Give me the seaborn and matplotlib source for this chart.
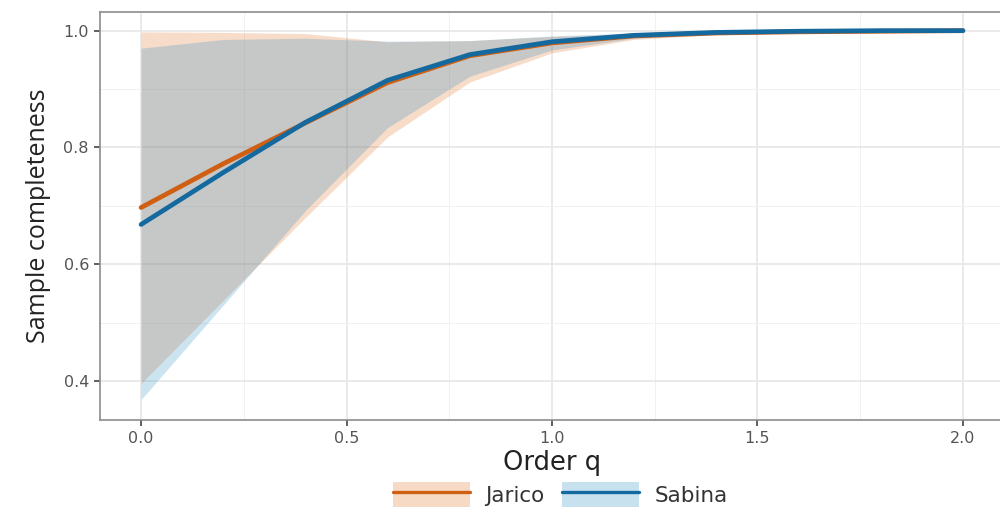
import numpy as np
import pandas as pd
import matplotlib
matplotlib.use("Agg")
import matplotlib.pyplot as plt
import seaborn as sns
from matplotlib.patches import Patch
from matplotlib.lines import Line2D

# ---- data ----
order_q = [0.0, 0.2, 0.4, 0.6, 0.8, 1.0, 1.2, 1.4, 1.6, 1.8, 2.0]
sites = ["Jarico", "Sabina"]

jarico_sc = [0.697, 0.772, 0.842, 0.911, 0.957, 0.979, 0.991, 0.996, 0.998, 0.999, 1.000]
jarico_lo = [0.396, 0.538, 0.680, 0.818, 0.912, 0.962, 0.985, 0.993, 0.996, 0.998, 0.999]
jarico_hi = [0.998, 0.997, 0.995, 0.981, 0.983, 0.990, 0.995, 0.998, 0.999, 1.000, 1.000]

sabina_sc = [0.668, 0.757, 0.843, 0.915, 0.959, 0.981, 0.992, 0.997, 0.999, 1.000, 1.000]
sabina_lo = [0.368, 0.530, 0.692, 0.834, 0.922, 0.967, 0.987, 0.994, 0.997, 0.999, 0.999]
sabina_hi = [0.970, 0.985, 0.987, 0.982, 0.983, 0.991, 0.996, 0.999, 1.000, 1.000, 1.000]

x_ticks = [0.0, 0.5, 1.0, 1.5, 2.0]
y_ticks = [0.4, 0.6, 0.8, 1.0]

colors = {"Jarico": "#CF5F12", "Sabina": "#14699F"}
fill_colors = {"Jarico": "#E07020", "Sabina": "#2B8CC4"}

df = pd.DataFrame({
    "q": order_q * 2,
    "sc": jarico_sc + sabina_sc,
    "lo": jarico_lo + sabina_lo,
    "hi": jarico_hi + sabina_hi,
    "site": ["Jarico"] * len(order_q) + ["Sabina"] * len(order_q),
})

sns.set_theme(style="white")
plt.rcParams["font.family"] = ["DejaVu Sans"]

fig = plt.figure(figsize=(10, 5.08), dpi=100)
ax = fig.add_axes([0.1, 0.1732, 0.904, 0.8032])

alpha = 0.24
for s in sites:
    d = df[df.site == s]
    ax.fill_between(d.q, d.lo, d.hi, color=fill_colors[s], alpha=alpha, linewidth=0, zorder=2)

sns.lineplot(data=df, x="q", y="sc", hue="site", palette=colors, linewidth=3.4,
             ax=ax, legend=False, zorder=3)

ax.set_xlim(-0.1, 2.1)
ax.set_ylim(0.333, 1.032)
ax.set_xticks(x_ticks)
ax.set_yticks(y_ticks)
ax.set_xticks([0.25, 0.75, 1.25, 1.75], minor=True)
ax.set_yticks([0.5, 0.7, 0.9], minor=True)
ax.grid(True, which="major", color="#E6E6E6", linewidth=1.2, zorder=0)
ax.grid(True, which="minor", color="#F1F1F1", linewidth=0.7, zorder=0)
ax.set_axisbelow(True)
for sp in ax.spines.values():
    sp.set_color("#8C8C8C")
    sp.set_linewidth(1.2)

ax.tick_params(axis="both", which="major", direction="out", length=4, width=1.2,
               color="#444444", labelsize=11.5, labelcolor="#555555", bottom=True, left=True,
               pad=4)
ax.tick_params(axis="both", which="minor", length=0)

ax.set_xlabel("Order q", fontsize=18.5, color="#222222", labelpad=3)
ax.set_ylabel("Sample completeness", fontsize=18, color="#222222", labelpad=9,
              family=["Open Sans", "DejaVu Sans"])

handles = [(Patch(facecolor=fill_colors[s], alpha=0.26, edgecolor="none"),
            Line2D([0], [0], color=colors[s], linewidth=2.4)) for s in sites]
fig.legend(handles, sites, loc="center", bbox_to_anchor=(0.56, 0.026), ncol=2,
           frameon=False, fontsize=15.5, handlelength=3.6, handleheight=1.4,
           columnspacing=0.8, handletextpad=0.7, borderpad=0.2,
           labelcolor="#333333")

fig.savefig("out.png", dpi=100)
